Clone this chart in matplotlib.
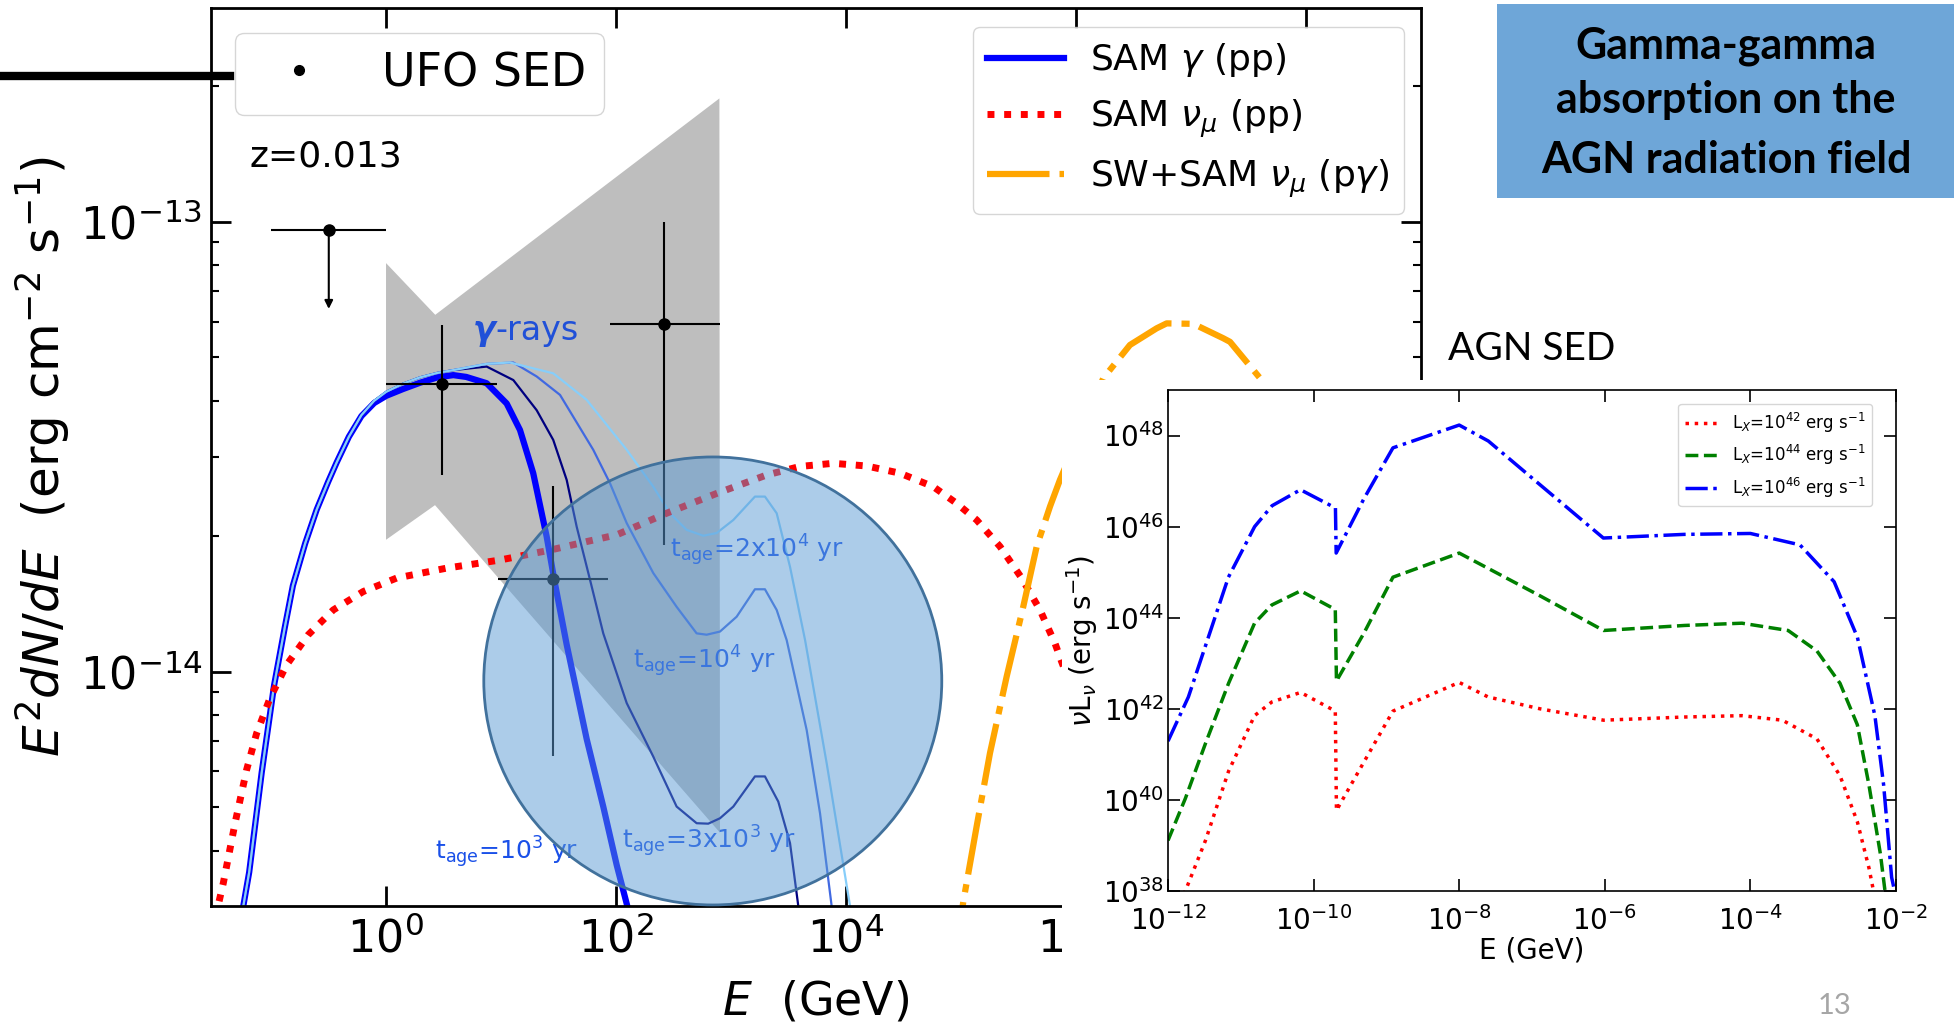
import numpy as np
import matplotlib
matplotlib.use("Agg")
import matplotlib.pyplot as plt
from matplotlib.patches import Ellipse, Rectangle
from matplotlib.lines import Line2D
import matplotlib.ticker as mticker

# ---------------- Main SED panel data (log10 E [GeV], log10 E^2 dN/dE [erg cm^-2 s^-1])
grey_logE = [0.003, 0.431, 2.902, 2.907, 0.429, 0.003]
grey_logF = [-13.092, -13.207, -12.726, -14.358, -13.630, -13.707]

t1e3_logE = [-1.30, -1.238, -1.187, -1.078, -0.970, -0.876, -0.807, -0.700, -0.600, -0.500, -0.426, -0.320,
             -0.211, -0.100, 0.005, 0.150, 0.298, 0.450, 0.588, 0.700, 0.878, 1.052, 1.168, 1.283, 1.400,
             1.469, 1.574, 1.748, 1.892, 2.009, 2.110, 2.20]
t1e3_logF = [-14.65, -14.521, -14.446, -14.224, -14.030, -13.900, -13.809, -13.715, -13.640, -13.578, -13.535,
             -13.478, -13.432, -13.403, -13.387, -13.372, -13.358, -13.346, -13.341, -13.345, -13.359, -13.404,
             -13.463, -13.559, -13.700, -13.800, -13.940, -14.150, -14.300, -14.430, -14.530, -14.65]

t3e3_logE = [-1.30, -1.238, -1.187, -1.078, -0.970, -0.876, -0.807, -0.700, -0.600, -0.500, -0.426, -0.320,
             -0.211, -0.100, 0.005, 0.150, 0.298, 0.450, 0.585, 0.878, 1.110, 1.313, 1.457, 1.574, 1.661,
             1.777, 1.892, 2.096, 2.327, 2.530, 2.704, 2.805, 2.907, 3.023, 3.211, 3.298, 3.414, 3.516,
             3.588, 3.65]
t3e3_logF = [-14.65, -14.521, -14.446, -14.224, -14.030, -13.900, -13.809, -13.715, -13.640, -13.578, -13.535,
             -13.478, -13.430, -13.398, -13.378, -13.360, -13.346, -13.336, -13.330, -13.322, -13.352, -13.419,
             -13.485, -13.574, -13.678, -13.796, -13.915, -14.070, -14.189, -14.300, -14.337, -14.338, -14.326,
             -14.300, -14.233, -14.233, -14.289, -14.381, -14.521, -14.65]

t1e4_logE = [-1.30, -1.238, -1.187, -1.078, -0.970, -0.876, -0.807, -0.700, -0.600, -0.500, -0.426, -0.320,
             -0.211, -0.100, 0.005, 0.150, 0.298, 0.450, 0.585, 0.878, 1.110, 1.313, 1.516, 1.805, 1.950,
             2.096, 2.327, 2.530, 2.704, 2.791, 2.907, 3.052, 3.211, 3.298, 3.400, 3.487, 3.661, 3.777,
             3.878, 3.95]
t1e4_logF = [-14.65, -14.521, -14.446, -14.224, -14.030, -13.900, -13.809, -13.715, -13.640, -13.578, -13.535,
             -13.478, -13.430, -13.398, -13.378, -13.360, -13.346, -13.336, -13.330, -13.316, -13.313, -13.344,
             -13.385, -13.507, -13.581, -13.670, -13.781, -13.856, -13.915, -13.918, -13.911, -13.878, -13.817,
             -13.817, -13.863, -13.930, -14.130, -14.315, -14.521, -14.65]

t2e4_logE = [-1.30, -1.238, -1.187, -1.078, -0.970, -0.876, -0.807, -0.700, -0.600, -0.500, -0.426, -0.320,
             -0.211, -0.100, 0.005, 0.150, 0.298, 0.450, 0.585, 0.878, 1.081, 1.457, 1.748, 2.096, 2.327,
             2.472, 2.617, 2.762, 2.878, 3.023, 3.211, 3.298, 3.400, 3.516, 3.647, 3.835, 4.038, 4.12]
t2e4_logF = [-14.65, -14.521, -14.446, -14.224, -14.030, -13.900, -13.809, -13.715, -13.640, -13.578, -13.535,
             -13.478, -13.430, -13.398, -13.378, -13.360, -13.346, -13.336, -13.330, -13.316, -13.313, -13.337,
             -13.396, -13.507, -13.589, -13.648, -13.685, -13.698, -13.692, -13.663, -13.611, -13.611, -13.648,
             -13.767, -13.930, -14.204, -14.521, -14.65]

nu_pp_logE = [-1.52, -1.458, -1.412, -1.310, -1.209, -1.122, -1.006, -0.861, -0.673, -0.456, -0.195, 0.096,
              0.530, 0.994, 1.429, 1.748, 2.009, 2.443, 2.878, 3.313, 3.603, 3.892, 4.183, 4.472, 4.762,
              4.965, 5.139, 5.342, 5.530, 5.690, 5.820, 5.878, 6.0]
nu_pp_logF = [-14.62, -14.521, -14.470, -14.337, -14.218, -14.137, -14.059, -13.985, -13.918, -13.863, -13.822,
              -13.792, -13.770, -13.752, -13.730, -13.711, -13.696, -13.648, -13.604, -13.563, -13.544, -13.537,
              -13.543, -13.559, -13.589, -13.626, -13.663, -13.722, -13.792, -13.863, -13.937, -13.978, -14.06]

nu_pg_logE = [4.95, 5.023, 5.139, 5.255, 5.400, 5.544, 5.661, 5.777, 5.863, 6.240, 6.472, 6.704, 6.791,
              7.023, 7.283, 7.342, 7.617, 7.95]
nu_pg_logF = [-14.65, -14.511, -14.344, -14.181, -14.011, -13.856, -13.722, -13.633, -13.574, -13.348, -13.274,
              -13.237, -13.226, -13.227, -13.259, -13.267, -13.352, -13.51]

# UFO SED data points (GeV, erg cm^-2 s^-1)
pt_E = np.array([3.07, 28.3, 264.0])
pt_Elo = np.array([1.0, 9.5, 90.0])
pt_Ehi = np.array([9.2, 86.0, 812.0])
pt_F = np.array([4.35e-14, 1.61e-14, 5.91e-14])
pt_Flo = np.array([2.74e-14, 6.5e-15, 1.91e-14])
pt_Fhi = np.array([5.89e-14, 2.58e-14, 1.0e-13])
ul_E, ul_Elo, ul_Ehi = 0.32, 0.10, 1.0
ul_F, ul_Farrow = 9.6e-14, 6.4e-14

main_xticks = [1e0, 1e2, 1e4, 1e6, 1e8]
main_xticklabels = [r"$10^{0}$", r"$10^{2}$", r"$10^{4}$", r"$10^{6}$", ""]   # 10^8 label lies under the inset
main_yticks = [1e-14, 1e-13]

# ---------------- AGN SED inset data (log10 E [GeV], log10 nuL_nu [erg s^-1])
agn42_logE = [-12.0, -11.762, -11.485, -11.168, -10.811, -10.574, -10.178, -9.702, -9.686, -9.306, -8.910,
              -8.0, -7.602, -6.889, -6.017, -4.908, -4.116, -3.561, -3.086, -2.769, -2.531, -2.372, -2.309]
agn42_logL = [37.2, 38.0, 39.11, 40.63, 41.85, 42.15, 42.36, 41.95, 39.77, 40.84, 41.95,
              42.58, 42.26, 42.0, 41.75, 41.82, 41.85, 41.75, 41.34, 40.53, 39.52, 38.51, 38.0]
agn44_logE = [-12.0, -11.762, -11.485, -11.168, -10.811, -10.574, -10.178, -9.702, -9.686, -9.306, -8.910,
              -8.0, -6.889, -6.017, -4.908, -4.116, -3.482, -3.086, -2.769, -2.531, -2.372, -2.214, -2.151]
agn44_logL = [39.11, 40.03, 41.24, 42.56, 43.88, 44.28, 44.59, 44.18, 42.61, 43.67, 44.89,
              45.42, 44.48, 43.72, 43.83, 43.88, 43.72, 43.27, 42.56, 41.65, 40.33, 38.81, 38.0]
agn46_logE = [-12.0, -11.72, -11.17, -10.81, -10.57, -10.18, -9.70, -9.69, -9.31, -8.91, -8.00, -7.60,
              -6.89, -6.02, -4.91, -4.0, -3.32, -2.85, -2.53, -2.29, -2.17, -2.06, -2.02]
agn46_logL = [41.29, 42.26, 44.89, 46.0, 46.46, 46.81, 46.41, 45.42, 46.61, 47.73, 48.23, 47.88,
              46.92, 45.75, 45.83, 45.85, 45.60, 44.79, 43.57, 41.85, 40.33, 38.3, 38.0]
agn_xticks = [1e-12, 1e-10, 1e-8, 1e-6, 1e-4, 1e-2]
agn_yticks = [1e38, 1e40, 1e42, 1e44, 1e46, 1e48]

p = lambda a: 10.0 ** np.asarray(a)

# ---------------- figure
W, H = 1954, 1024
fig = plt.figure(figsize=(W / 100, H / 100), dpi=100)

def fx(x):
    return x / W

def fy(y):
    return 1 - y / H

ax = fig.add_axes([fx(211), fy(906), (1421 - 211) / W, (906 - 8) / H], zorder=0)
ax.set_xscale("log")
ax.set_yscale("log")
ax.set_xlim(10 ** -1.519, 10 ** 9.003)
ax.set_ylim(10 ** -14.521, 10 ** -12.525)

ax.fill(p(grey_logE), p(grey_logF), color="#bebebe", lw=0, zorder=1)

l_thick, = ax.plot(p(t1e3_logE), p(t1e3_logF), color="#0000ff", lw=4.5, zorder=2, label=r"SAM $\gamma$ (pp)",
                   solid_joinstyle="round")
ax.plot(p(t3e3_logE), p(t3e3_logF), color="#000080", lw=1.6, zorder=2.1)
ax.plot(p(t1e4_logE), p(t1e4_logF), color="#4169e1", lw=1.6, zorder=2.2)
ax.plot(p(t2e4_logE), p(t2e4_logF), color="#87cefa", lw=1.6, zorder=2.3)
l_red, = ax.plot(p(nu_pp_logE), p(nu_pp_logF), color="red", lw=5, ls=(0, (1, 1.4)), zorder=2.5,
                 label=r"SAM $\nu_\mu$ (pp)")
l_or, = ax.plot(p(nu_pg_logE), p(nu_pg_logF), color="orange", lw=4.5, ls=(0, (10, 1.6, 1.3, 1.6)), zorder=2.5,
                label=r"SW+SAM $\nu_\mu$ (p$\gamma$)")

ax.errorbar(pt_E, pt_F, xerr=[pt_E - pt_Elo, pt_Ehi - pt_E], yerr=[pt_F - pt_Flo, pt_Fhi - pt_F],
            fmt="o", color="k", ms=8, elinewidth=1.5, capsize=0, zorder=3)
ax.errorbar([ul_E], [ul_F], xerr=[[ul_E - ul_Elo], [ul_Ehi - ul_E]], fmt="o", color="k", ms=8,
            elinewidth=1.5, capsize=0, zorder=3)
ax.annotate("", xy=(ul_E, ul_Farrow), xytext=(ul_E, ul_F),
            arrowprops=dict(arrowstyle="-|>", color="k", lw=1.5, mutation_scale=12, shrinkA=0, shrinkB=0),
            zorder=3)

lab_col = "#1a50e8"
ax.text(10 ** 2.472, 10 ** -13.747, r"$\mathregular{t_{age}}$=2x10$^4$ yr", color=lab_col, fontsize=18, zorder=3)
ax.text(10 ** 2.154, 10 ** -13.992, r"$\mathregular{t_{age}}$=10$^4$ yr", color=lab_col, fontsize=18, zorder=3)
ax.text(10 ** 2.052, 10 ** -14.392, r"$\mathregular{t_{age}}$=3x10$^3$ yr", color=lab_col, fontsize=18, zorder=3)
ax.text(10 ** 0.429, 10 ** -14.418, r"$\mathregular{t_{age}}$=10$^3$ yr", color=lab_col, fontsize=18, zorder=3)
tg = ax.text(10 ** 0.759, 10 ** -13.263, "γ", color="#2050d8", fontsize=24, fontweight="bold",
             fontstyle="italic", zorder=3)
ax.annotate("-rays", xy=(1, 0), xycoords=tg, va="bottom", ha="left", color="#2050d8", fontsize=24, zorder=3)

circ = Ellipse((0.4147, 0.2506), 0.3785, 0.4989, transform=ax.transAxes, facecolor=(0.357, 0.608, 0.835, 0.5),
               edgecolor="#41719c", lw=2, zorder=4, clip_on=False)
ax.add_patch(circ)

ax.text(0.0322, 0.823, "z=0.013", transform=ax.transAxes, fontsize=26, va="baseline")

ax.set_xticks(main_xticks, labels=main_xticklabels)
ax.xaxis.set_minor_locator(mticker.NullLocator())
ax.yaxis.set_major_locator(mticker.FixedLocator(main_yticks))
ax.yaxis.set_minor_locator(mticker.LogLocator(base=10, subs=np.arange(2, 10)))
ax.yaxis.set_minor_formatter(mticker.NullFormatter())
ax.tick_params(which="both", direction="in", top=True, right=True)
ax.tick_params(which="major", length=14.5, width=2, labelsize=32)
ax.tick_params(axis="x", which="major", pad=8)
ax.tick_params(axis="y", which="major", pad=6)
ax.tick_params(which="minor", length=6, width=1.5)
for s in ax.spines.values():
    s.set_linewidth(2)

ax.set_xlabel(r"$E$  (GeV)", fontsize=33)
ax.xaxis.set_label_coords(0.5, -0.0824)
ax.set_ylabel(r"$E^2dN/dE$  (erg cm$^{-2}$ s$^{-1}$)", fontsize=36)
ax.yaxis.set_label_coords(-0.115, 0.5)

ufo = Line2D([], [], marker="o", color="k", ls="none", ms=7)
leg1 = ax.legend([ufo], ["UFO SED"], loc="upper left", bbox_to_anchor=(0.0198, 0.9722), borderaxespad=0,
                 fontsize=33)
leg1.set_zorder(5)
ax.add_artist(leg1)
leg2 = ax.legend(handles=[l_thick, l_red, l_or], loc="upper right", bbox_to_anchor=(0.986, 0.9788),
                 borderaxespad=0, fontsize=26, handlelength=2.13, handletextpad=0.72)
leg2.set_zorder(5)

# white patch over which the AGN SED figure sits
fig.add_artist(Rectangle((fx(1062), fy(975)), 1, (975 - 380) / H, transform=fig.transFigure,
                         facecolor="white", edgecolor="none", zorder=1))

# ---------------- inset AGN SED
axin = fig.add_axes([fx(1168), fy(891), (1896 - 1168) / W, (891 - 390) / H], zorder=2)
axin.set_xscale("log")
axin.set_yscale("log")
axin.plot(p(agn42_logE), p(agn42_logL), color="red", ls=":", lw=2.5, label=r"L$_X$=10$^{42}$ erg s$^{-1}$")
axin.plot(p(agn44_logE), p(agn44_logL), color="green", ls="--", lw=2.5, label=r"L$_X$=10$^{44}$ erg s$^{-1}$")
axin.plot(p(agn46_logE), p(agn46_logL), color="blue", ls="-.", lw=2.5, label=r"L$_X$=10$^{46}$ erg s$^{-1}$")
axin.set_xlim(1e-12, 1e-2)
axin.set_ylim(1e38, 1e49)
axin.xaxis.set_major_locator(mticker.FixedLocator(agn_xticks))
axin.yaxis.set_major_locator(mticker.FixedLocator(agn_yticks))
axin.xaxis.set_minor_locator(mticker.NullLocator())
axin.yaxis.set_minor_locator(mticker.NullLocator())
axin.tick_params(which="both", direction="in", top=True, right=True, length=8.5, width=1.2, labelsize=20)
axin.tick_params(axis="x", pad=11)
axin.tick_params(axis="y", pad=3)
for s in axin.spines.values():
    s.set_linewidth(1.2)
axin.set_xlabel("E (GeV)", fontsize=20, labelpad=0)
axin.set_ylabel(r"$\nu$L$_\nu$ (erg s$^{-1}$)", fontsize=20, labelpad=2)
axin.legend(loc="upper right", bbox_to_anchor=(0.967, 0.972), borderaxespad=0, fontsize=12)

fig.text(fx(1532), fy(349), "AGN SED", fontsize=28, family="Lato", ha="center", va="center", zorder=4)

# ---------------- slide decorations
fig.add_artist(Rectangle((fx(1497), fy(198)), (W - 1497) / W, 194 / H, transform=fig.transFigure,
                         facecolor="#6ea6d8", edgecolor="none", zorder=4))
for txt, yb in [("Gamma-gamma", 58.3), ("absorption on the", 113.3), ("AGN radiation field", 173.3)]:
    fig.text(fx(1726), fy(yb), txt, fontsize=31, family="Lato", fontweight="bold", ha="center",
             va="baseline", zorder=5)
fig.text(fx(1834), fy(1006), "13", color="#a6a6a6", fontsize=21, family="Lato", ha="center", va="center",
         zorder=5)
fig.add_artist(Line2D([0, fx(230)], [fy(76), fy(76)], transform=fig.transFigure, color="k", lw=6, zorder=1))

fig.savefig("out.png", dpi=100)
